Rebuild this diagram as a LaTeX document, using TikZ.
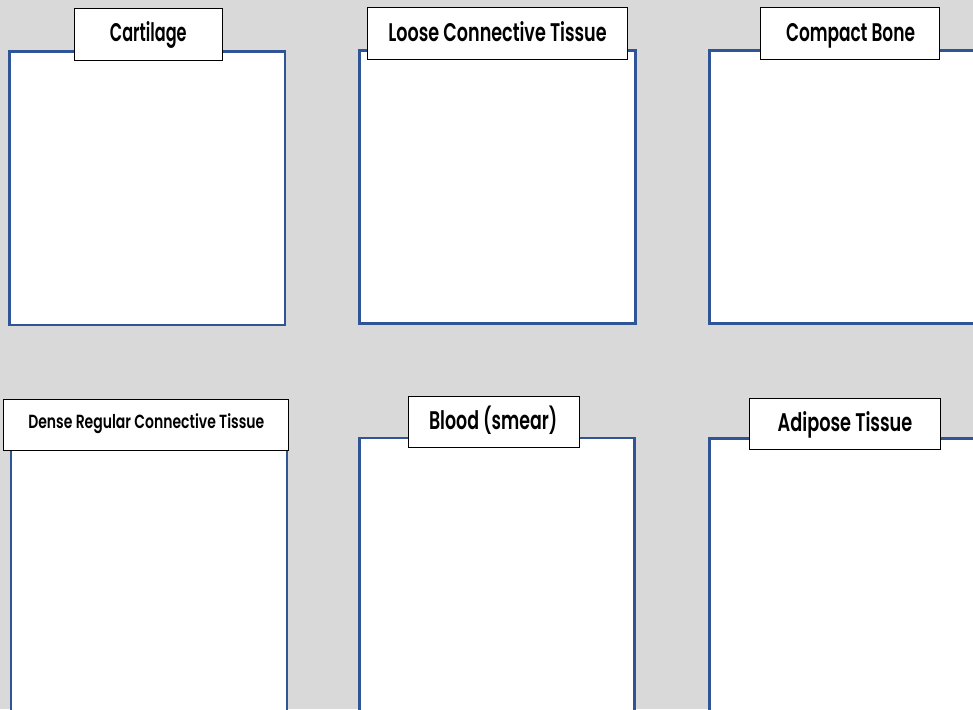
\documentclass[tikz,border=0pt]{standalone}
\usepackage{fontspec}
\setmainfont{Poppins}[BoldFont={Poppins SemiBold}]
\usepackage{graphicx}
\definecolor{panelblue}{HTML}{2F5597}
\definecolor{bgray}{HTML}{D9D9D9}
\begin{document}
\begin{tikzpicture}[x=1pt,y=-1pt,
  panel/.style={draw=panelblue, line width=2.7pt, fill=white},
  labbox/.style={draw=black, line width=1pt, fill=white, inner sep=0pt, outer sep=0pt},
  labtext/.style={anchor=base, inner sep=0pt, font=\fontsize{25.5}{26}\selectfont\bfseries},
  smalltext/.style={anchor=base, inner sep=0pt, font=\fontsize{19}{20}\selectfont\bfseries}]
\useasboundingbox (0,0) rectangle (973,709);
\clip (0,0) rectangle (973,709);
\fill[bgray] (0,0) rectangle (973,709);
% panels
\draw[panel] (9.8,51.3) rectangle (285,325);
\draw[panel] (359.7,50.7) rectangle (635.3,323.5);
\draw[panel] (709.7,50.5) rectangle (990,323.5);
\draw[panel] (11,449) rectangle (287,720);
\draw[panel] (359.7,438) rectangle (634.7,720);
\draw[panel] (709.7,438.3) rectangle (990,720);
% label boxes
\node[labbox, minimum width=148pt, minimum height=51pt] (l1) at (148,34.5) {};
\node[labbox, minimum width=260pt, minimum height=51.6pt] (l2) at (497.3,33.5) {};
\node[labbox, minimum width=178.6pt, minimum height=51.7pt] (l3) at (850,33.8) {};
\node[labbox, minimum width=285pt, minimum height=50.7pt] (l4) at (146.2,424.7) {};
\node[labbox, minimum width=171pt, minimum height=51.4pt] (l5) at (493.8,422) {};
\node[labbox, minimum width=190.6pt, minimum height=51.3pt] (l6) at (845,423.7) {};
% label texts
\node[labtext] (t1) at (148.3,41.7) {\resizebox{76.7pt}{\height}{Cartilage}};
\node[labtext] (t2) at (497.5,41.7) {\resizebox{218.3pt}{\height}{Loose Connective Tissue}};
\node[labtext] (t3) at (850.5,41.7) {\resizebox{129pt}{\height}{Compact Bone}};
\node[smalltext] (t4) at (146.3,428.3) {\resizebox{236pt}{\height}{Dense Regular Connective Tissue}};
\node[labtext] (t5) at (493.2,429.3) {\resizebox{128.3pt}{\height}{Blood (smear)}};
\node[labtext] (t6) at (845,431) {\resizebox{134.7pt}{\height}{Adipose Tissue}};
\end{tikzpicture}
\end{document}
